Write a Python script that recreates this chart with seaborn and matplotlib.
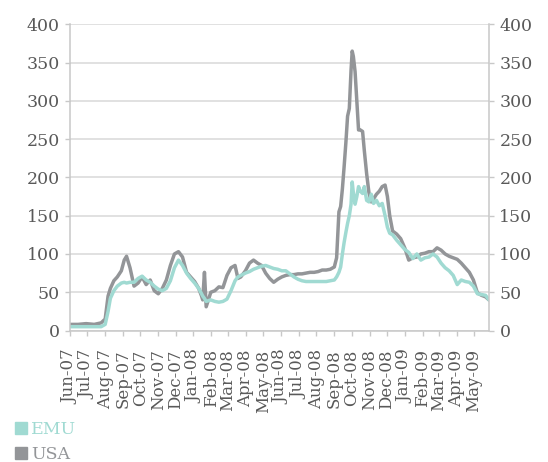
import pandas as pd
import numpy as np
import matplotlib.pyplot as plt
import matplotlib.dates as mdates
from matplotlib.lines import Line2D
import seaborn as sns

# values (roughly weekly, denser around the Oct-08 spike)
dates = [
    "2007-06-01", "2007-06-15", "2007-06-29", "2007-07-13", "2007-07-25", "2007-08-01",
    "2007-08-06", "2007-08-10", "2007-08-16", "2007-08-22", "2007-08-29", "2007-09-03",
    "2007-09-07", "2007-09-13", "2007-09-20", "2007-09-27", "2007-10-04", "2007-10-11",
    "2007-10-18", "2007-10-25", "2007-11-01", "2007-11-08", "2007-11-15", "2007-11-22",
    "2007-11-29", "2007-12-06", "2007-12-13", "2007-12-20", "2007-12-27", "2008-01-03",
    "2008-01-10", "2008-01-15", "2008-01-17", "2008-01-20", "2008-01-23", "2008-01-31",
    "2008-02-07", "2008-02-14", "2008-02-21", "2008-02-28", "2008-03-06", "2008-03-13",
    "2008-03-18", "2008-03-23", "2008-03-31", "2008-04-07", "2008-04-14", "2008-04-21",
    "2008-04-28", "2008-05-05", "2008-05-12", "2008-05-19", "2008-05-26", "2008-06-02",
    "2008-06-09", "2008-06-16", "2008-06-23", "2008-06-30", "2008-07-07", "2008-07-14",
    "2008-07-21", "2008-07-28", "2008-08-04", "2008-08-11", "2008-08-18", "2008-08-25",
    "2008-09-01", "2008-09-05", "2008-09-09", "2008-09-12", "2008-09-15", "2008-09-18",
    "2008-09-21", "2008-09-24", "2008-09-27", "2008-09-30", "2008-10-02", "2008-10-04",
    "2008-10-07", "2008-10-10", "2008-10-13", "2008-10-16", "2008-10-20", "2008-10-23",
    "2008-10-27", "2008-10-31", "2008-11-04", "2008-11-08", "2008-11-13", "2008-11-18",
    "2008-11-23", "2008-11-28", "2008-12-02", "2008-12-06", "2008-12-11", "2008-12-18",
    "2008-12-25", "2009-01-01", "2009-01-08", "2009-01-15", "2009-01-22", "2009-01-29",
    "2009-02-05", "2009-02-12", "2009-02-19", "2009-02-26", "2009-03-05", "2009-03-12",
    "2009-03-19", "2009-03-26", "2009-04-02", "2009-04-09", "2009-04-16", "2009-04-23",
    "2009-04-30", "2009-05-07", "2009-05-14", "2009-05-21", "2009-05-27",
]

usa = [
    8, 8, 9, 8, 10, 15,
    45, 55, 65, 70, 78, 92,
    97, 82, 58, 62, 70, 60,
    66, 52, 48, 55, 66, 85,
    100, 103, 96, 76, 70, 64,
    55, 45, 40, 76, 31, 50,
    52, 57, 56, 72, 82, 85,
    68, 70, 78, 88, 92, 88,
    85, 75, 68, 63, 67, 70,
    72, 73, 73, 74, 74, 75,
    76, 76, 77, 79, 79, 80,
    83, 95, 155, 162, 185, 214,
    245, 280, 290, 340, 365, 358,
    338, 300, 262, 262, 260, 235,
    205, 180, 168, 172, 178, 182,
    188, 190, 175, 150, 130, 126,
    120, 108, 92, 95, 96, 100,
    101, 103, 103, 108, 105, 100,
    97, 95, 93, 88, 82, 76,
    66, 49, 46, 44, 40,
]

emu = [
    5, 5, 5, 5, 5, 8,
    25, 42, 52, 58, 62, 63,
    62, 63, 63, 68, 71, 66,
    63, 58, 54, 52, 55, 65,
    82, 92, 85, 75, 68, 62,
    55, 48, 45, 42, 38, 40,
    38, 37, 38, 41, 52, 65,
    70, 72, 75, 77, 80, 82,
    84, 85, 83, 81, 80, 78,
    78, 74, 70, 67, 65, 64,
    64, 64, 64, 64, 64, 65,
    66, 70, 76, 83, 100, 115,
    128, 140, 150, 165, 194, 180,
    165, 175, 188, 182, 179, 188,
    170, 168, 178, 166, 170, 163,
    166, 150, 135, 127, 125, 118,
    112, 106, 102, 94, 100, 92,
    95, 96, 100, 96, 88, 82,
    78, 72, 60, 66, 64, 63,
    58, 48, 47, 46, 40,
]

series_names = ["USA", "EMU"]
colors = {"EMU": "#A0DAD2", "USA": "#939598"}
y_ticks = [0, 50, 100, 150, 200, 250, 300, 350, 400]

df = pd.DataFrame({"date": pd.to_datetime(dates), "USA": usa, "EMU": emu})
long_df = df.melt(id_vars="date", value_vars=series_names,
                  var_name="series", value_name="value")

sns.set_style("white")
plt.rcParams["font.family"] = ["DejaVu Serif"]

fig = plt.figure(figsize=(5.48, 4.62), dpi=100)
ax = fig.add_axes([0.1277, 0.2846, 0.7646, 0.6628])

sns.lineplot(data=long_df, x="date", y="value", hue="series",
             hue_order=series_names, palette=colors, linewidth=2.5,
             legend=False, ax=ax)

ax.set_ylim(0, 400)
ax.set_yticks(y_ticks)
ax.set_xlim(df["date"].min(), df["date"].max())
ax.xaxis.set_major_locator(mdates.MonthLocator())
ax.xaxis.set_major_formatter(mdates.DateFormatter("%b-%y"))
ax.set_xlabel("")
ax.set_ylabel("")

ax.grid(axis="y", color="#D9D9D9", linewidth=1.1)
ax.set_axisbelow(True)
for side in ["left", "right", "bottom"]:
    ax.spines[side].set_color("#C8C8C8")
    ax.spines[side].set_linewidth(1.1)
ax.spines["top"].set_visible(False)

ax.tick_params(axis="y", left=True, right=True, labelleft=True, labelright=True,
               length=3.5, width=1, color="#C8C8C8", labelcolor="#595959",
               labelsize=12.5, pad=4)
ax.tick_params(axis="x", bottom=True, length=3.5, width=1, color="#C8C8C8",
               labelcolor="#595959", labelsize=12, pad=10, labelrotation=90)

handles = [Line2D([], [], marker="s", linestyle="", markersize=9,
                  color=colors[n]) for n in ["EMU", "USA"]]
leg = fig.legend(handles, ["EMU", "USA"], loc="upper left",
                 bbox_to_anchor=(0.02, 0.097), frameon=False, fontsize=12.5,
                 handlelength=0.8, handletextpad=0.15, labelspacing=0.5,
                 borderaxespad=0.0, borderpad=0.2)
for text, n in zip(leg.get_texts(), ["EMU", "USA"]):
    text.set_color(colors[n])

fig.savefig("out.png", dpi=100)
